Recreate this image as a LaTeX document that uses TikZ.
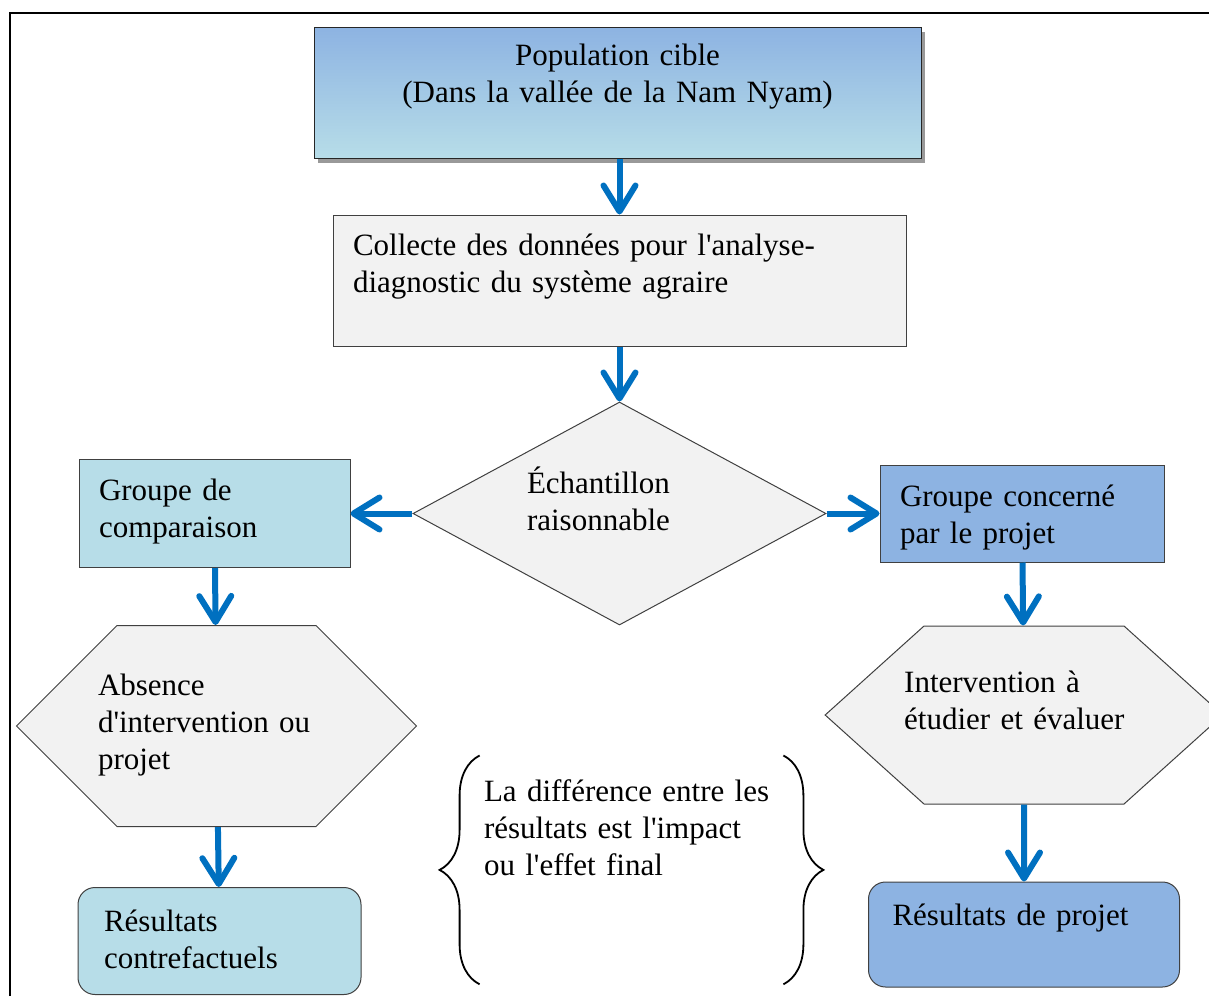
\documentclass[tikz,border=0pt]{standalone}
\usepackage{fontspec}
\setmainfont{Liberation Serif}
\usepackage{tikz}
\usetikzlibrary{shapes.geometric, shapes.symbols, arrows.meta, positioning, shadows, decorations.pathreplacing}

\definecolor{boxblue}{HTML}{8DB3E2}
\definecolor{boxcyan}{HTML}{B7DDE8}
\definecolor{boxgray}{HTML}{F2F2F2}
\definecolor{arrowblue}{HTML}{0070C0}

\begin{document}
\begin{tikzpicture}[
    x=0.5pt, y=-0.5pt,
    box/.style={rectangle, draw=black!75, line width=0.5pt, align=left, inner ysep=0pt, font=\fontsize{15.5}{18.5}\selectfont},
    note/.style={rectangle, align=left, inner ysep=0pt, font=\fontsize{15.5}{18.5}\selectfont},
    hexa/.style={signal, signal to=west and east, signal pointer angle=90, draw=black!75, line width=0.5pt, fill=boxgray, align=left, inner ysep=0pt, font=\fontsize{15.5}{18.5}\selectfont},
    arrow/.style={-{Straight Barb[length=13pt, width=16pt, line width=0pt 1, round]}, line width=3pt, arrowblue},
    brace/.style={decorate, decoration={brace, amplitude=20pt}, line width=0.9pt}
]
    \useasboundingbox (0,0) rectangle (1209,996);
    \draw[line width=1.2pt] (10,996) -- (10,13) -- (1209,13);

    \node[box, align=center, draw=black!85, top color=boxblue, bottom color=boxcyan, drop shadow={shadow xshift=2.2pt, shadow yshift=-2.5pt, fill=black!40, opacity=1}, text width=290pt, inner xsep=6.75pt, text height=19pt, text depth=46.5pt] (pop) at (617.5,92.5) {Population cible\\(Dans la vallée de la Nam Nyam)};
    \node[box, fill=boxgray, text width=266.5pt, inner xsep=10pt, text height=20pt, text depth=45.5pt, below=28pt of pop, xshift=1pt] (collecte) {Collecte des données pour l\textquotesingle analyse-\\diagnostic du système agraire};
    \node[diamond, draw=black!75, line width=0.5pt, fill=boxgray, aspect=1.85, minimum width=206.5pt, minimum height=111.5pt, inner sep=0pt, text width=92.5pt, align=left, text height=10pt, text depth=30.5pt, font=\fontsize{15.5}{18.5}\selectfont, below=27.5pt of collecte] (echant) {Échantillon\\raisonnable};
    \node[box, fill=boxcyan, text width=115.5pt, inner xsep=10pt, text height=20.5pt, text depth=33.5pt, left=31pt of echant] (comp) {Groupe de\\comparaison};
    \node[box, fill=boxblue, text width=122pt, inner xsep=10pt, text height=20.5pt, text depth=28pt, right=26.5pt of echant] (concerne) {Groupe concerné\\par le projet};
    \node[hexa, minimum height=100.5pt, text width=118.5pt, inner xsep=-9.5pt, text height=10pt, text depth=40.5pt, below=28.5pt of comp, xshift=1pt] (absence) {Absence\\d\textquotesingle intervention ou\\projet};
    \node[hexa, signal pointer angle=84, minimum height=89pt, text width=119.8pt, inner xsep=-9.9pt, text height=10pt, text depth=33pt, below=31.5pt of concerne, xshift=1pt] (interv) {Intervention à\\étudier et évaluer};
    \node[box, rounded corners=8.5pt, fill=boxcyan, text width=115.5pt, inner xsep=13pt, text height=22pt, text depth=31.5pt, below=30pt of absence, xshift=1.5pt] (rescf) {Résultats\\contrefactuels};
    \node[box, rounded corners=8.5pt, fill=boxblue, text width=131.5pt, inner xsep=12pt, text height=21.5pt, text depth=31pt, below=38.5pt of interv] (resproj) {Résultats de projet};
    \node[note, text width=147.5pt, inner xsep=2pt, text height=23pt, text depth=91pt, below=65pt of echant, xshift=6pt] (diff) {La différence entre les\\résultats est l\textquotesingle impact\\ou l\textquotesingle effet final};

    \draw[arrow] (pop.south -| collecte) -- (collecte);
    \draw[arrow] (collecte) -- (echant);
    \draw[arrow] (echant) -- (comp);
    \draw[arrow] (echant) -- (concerne);
    \draw[arrow] (comp) -- (absence);
    \draw[arrow] (concerne) -- (interv);
    \draw[arrow] (absence) -- (rescf);
    \draw[arrow] (interv) -- (resproj);
    \draw[brace] (diff.south west) -- (diff.north west);
    \draw[brace] (diff.north east) -- (diff.south east);
\end{tikzpicture}
\end{document}
